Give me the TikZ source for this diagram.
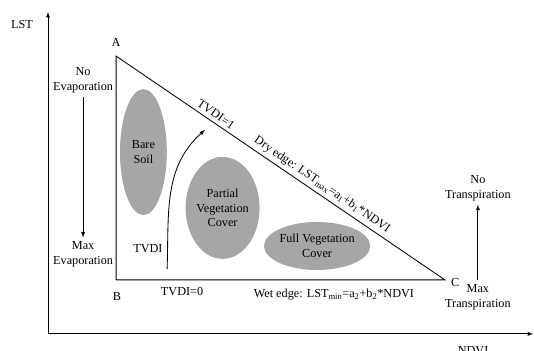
\documentclass[tikz,border=0pt]{standalone}
\usepackage{fontspec}
\setmainfont{Liberation Serif}
\usetikzlibrary{shapes.geometric}
\begin{document}
\begin{tikzpicture}
  [>=latex,line width=.8pt,
   every node/.style={font=\fontsize{11.6}{14}\selectfont,align=center},
   zone/.style={ellipse,fill=gray!70,inner sep=0pt}]
  \useasboundingbox (0,0) rectangle (17.8,11.7);
  \coordinate (o) at (1.6,0.57);
  \coordinate (ytop) at (1.6,11.3);
  \coordinate (xend) at (17.77,0.57);
  \coordinate (A) at (3.87,9.83);
  \coordinate (B) at (3.87,2.37);
  \coordinate (C) at (14.83,2.37);
  \coordinate (t0) at (5.57,2.73);
  \coordinate (t1) at (6.83,7.37);
  \node (lst) at (0.73,10.87) {LST};
  \node (ndvi) at (15.77,0) {NDVI};
  \node (la) at (3.87,10.27) {A};
  \node (lb) at (3.9,1.83) {B};
  \node (lc) at (15.17,2.27) {C};
  \node (noevap) at (2.77,9.03) {No\\Evaporation};
  \node (maxevap) at (2.77,3.23) {Max\\Evaporation};
  \node (notr) at (15.93,5.43) {No\\Transpiration};
  \node (maxtr) at (15.93,1.8) {Max\\Transpiration};
  \node[zone,minimum width=1.56cm,minimum height=4.2cm] (bare) at (4.78,6.63) {Bare\\Soil};
  \node[zone,minimum width=2.44cm,minimum height=3.4cm] (partial) at (7.42,4.77) {Partial\\Vegetation\\Cover};
  \node[zone,minimum width=3.2cm,minimum height=1.6cm] (full) at (10.57,3.5) {Full Vegetation\\Cover};
  \node (tvdi) at (4.93,3.4) {TVDI};
  \node (tvdi0) at (6.07,1.97) {TVDI=0};
  \node (wet) at (11.13,1.87) {Wet edge: LST\textsubscript{min}=a\textsubscript{2}+b\textsubscript{2}*NDVI};
  \draw[<->] (ytop) -- (o) -- (xend);
  \draw (A) -- node[sloped,above,pos=.29] (tvdi1) {TVDI=1}
    node[sloped,above,pos=.61] (dry) {Dry edge: LST\textsubscript{max}=a\textsubscript{1}+b\textsubscript{1}*NDVI}
    (C) -- (B) -- cycle;
  \draw[->] (noevap) -- (maxevap);
  \draw[->] (maxtr) -- (notr);
  \draw[->] (t0) to[out=88,in=222] (t1);
\end{tikzpicture}
\end{document}
